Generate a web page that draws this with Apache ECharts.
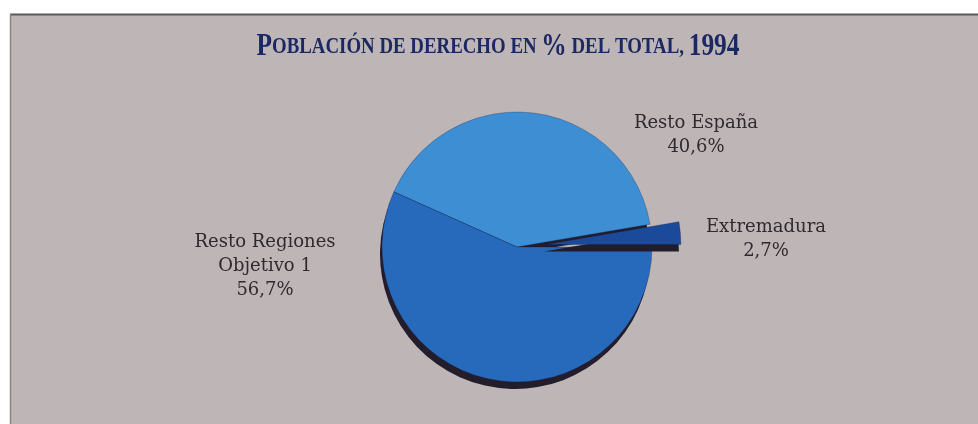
<!DOCTYPE html>
<html>
<head>
<meta charset="utf-8">
<script src="https://cdn.jsdelivr.net/npm/echarts@6/dist/echarts.min.js"></script>
<style>
  html, body { margin: 0; padding: 0; background: #ffffff; }
  #chart { width: 978px; height: 424px; }
</style>
</head>
<body>
<div id="chart"></div>
<script>
// Población de derecho, % del total (1994)
const categories = ['Extremadura', 'Resto España', 'Resto Regiones\nObjetivo 1'];
const shares = [2.7, 40.6, 56.7];
const titleParts = ['P', 'OBLACIÓN DE DERECHO EN ', '%', ' DEL TOTAL, ', '1994'];

// Label anchor points (pixels) for each slice, same order as categories
const labelAnchors = [[766, 239], [696, 135], [265, 266]];
const sliceColors = ['#1b4a9a', '#3d8ed3', '#2769bb'];
const explodedIndex = 0;

const fmtPct = v => v.toFixed(1).replace('.', ',') + '%';
const labelText = i => categories[i] + '\n' + fmtPct(shares[i]);

const labelFont = {
  fontFamily: 'DejaVu Serif',
  fontSize: 18,
  lineHeight: 24
};
const labelColor = '#2f2a2d';

const chart = echarts.init(document.getElementById('chart'), null, { renderer: 'canvas' });

const pieBase = {
  type: 'pie',
  radius: 135,
  clockwise: false,
  startAngle: 0,
  selectedMode: 'single',
  selectedOffset: 29,
  avoidLabelOverlap: false,
  silent: true,
  animation: false,
  labelLine: { show: false }
};

chart.setOption({
  animation: false,
  graphic: [
    {
      type: 'rect', z: -10, silent: true,
      shape: { x: 10, y: 14, width: 968, height: 410 },
      style: { fill: '#beb5b7' }
    },
    {
      type: 'line', z: -9, silent: true,
      shape: { x1: 10, y1: 14.5, x2: 978, y2: 14.5 },
      style: { stroke: '#5d575b', lineWidth: 2 }
    },
    {
      type: 'line', z: -9, silent: true,
      shape: { x1: 10.5, y1: 14, x2: 10.5, y2: 424 },
      style: { stroke: '#8c8588', lineWidth: 1.5 }
    },
    {
      type: 'text', z: 10, silent: true,
      x: 498, y: 47, scaleX: 0.82,
      style: {
        text: '{b|' + titleParts[0] + '}{s|' + titleParts[1] + '}{b|' + titleParts[2] +
              '}{s|' + titleParts[3] + '}{b|' + titleParts[4] + '}',
        align: 'center', verticalAlign: 'middle',
        rich: {
          b: { fontFamily: 'Liberation Serif', fontWeight: 'bold', fontSize: 31, fill: '#1b2862', color: '#1b2862' },
          s: { fontFamily: 'Liberation Serif', fontWeight: 'bold', fontSize: 23, fill: '#1b2862', color: '#1b2862' }
        }
      }
    },
    // label of the pulled-out slice (selected sectors ignore labelLayout)
    {
      type: 'text', z: 10, silent: true,
      x: labelAnchors[explodedIndex][0], y: labelAnchors[explodedIndex][1],
      style: Object.assign({
        text: labelText(explodedIndex),
        fill: labelColor,
        align: 'center', verticalAlign: 'middle'
      }, { font: labelFont.fontSize + 'px "' + labelFont.fontFamily + '"', lineHeight: labelFont.lineHeight })
    }
  ],
  series: [
    // dark rim under the pie, gives the disc its thickness
    Object.assign({}, pieBase, {
      name: 'rim',
      center: [515, 254],
      label: { show: false },
      itemStyle: { color: '#231c2b' },
      data: categories.map((n, i) => ({ name: n, value: shares[i], selected: i === explodedIndex }))
    }),
    Object.assign({}, pieBase, {
      name: 'Población',
      center: [517, 247],
      itemStyle: { borderColor: 'rgba(20,30,70,0.35)', borderWidth: 0.8 },
      label: Object.assign({
        show: true,
        formatter: p => labelText(p.dataIndex),
        color: labelColor,
        align: 'center'
      }, labelFont),
      labelLayout: p => ({
        x: labelAnchors[p.dataIndex][0],
        y: labelAnchors[p.dataIndex][1],
        align: 'center',
        verticalAlign: 'middle'
      }),
      data: categories.map((n, i) => ({
        name: n, value: shares[i], selected: i === explodedIndex,
        itemStyle: { color: sliceColors[i] },
        label: { show: i !== explodedIndex }
      }))
    })
  ]
});
</script>
</body>
</html>
